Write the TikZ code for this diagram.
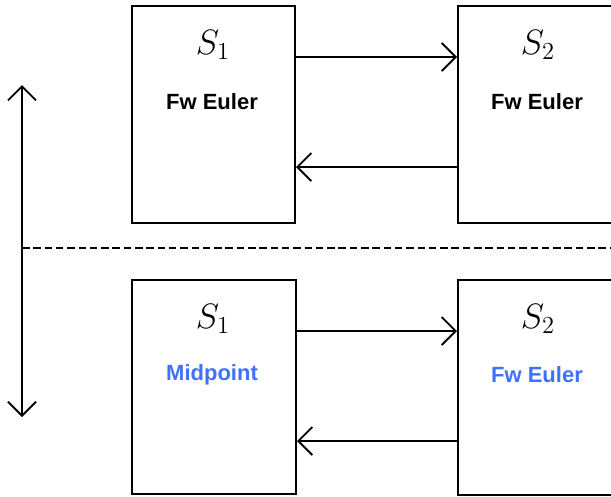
\documentclass[tikz,border=0pt]{standalone}
\usepackage{fontspec}
\setsansfont{Liberation Sans}
\usetikzlibrary{arrows.meta}
\definecolor{mblue}{RGB}{64,112,255}
\tikzset{
  blk/.style={draw=black, line width=2pt, inner sep=0pt, anchor=north west},
  conn/.style={line width=1.8pt, -{Straight Barb[length=14pt,width=28pt,line width=1.8pt]}},
  title/.style={font=\sffamily\bfseries\fontsize{22}{22}\selectfont, inner sep=0pt},
  slab/.style={font=\huge, inner sep=0pt, scale=1.7},
}
\begin{document}
\begin{tikzpicture}[x=1pt,y=-1pt]
\useasboundingbox (0,0) rectangle (611,496);
\clip (0,0) rectangle (611,496);
% boxes
\node[blk, minimum width=163pt, minimum height=217pt] (tl) at (131,5) {};
\node[blk, minimum width=180pt, minimum height=217pt] (tr) at (457,5) {};
\node[blk, minimum width=164pt, minimum height=214pt] (bl) at (131,279) {};
\node[blk, minimum width=180pt, minimum height=215pt] (br) at (457,279) {};
% labels
\node[slab] (s1a) at (213,45) {$S_{1}$};
\node[slab] (s2a) at (538,45) {$S_{2}$};
\node[title] (fa) at (212,102) {Fw Euler};
\node[title] (fb) at (537,102) {Fw Euler};
\node[slab] (s1b) at (213,319) {$S_{1}$};
\node[slab] (s2b) at (538,319) {$S_{2}$};
\node[title, text=mblue] (mp) at (212,375) {Midpoint};
\node[title, text=mblue] (fc) at (537,375) {Fw Euler};
% connectors
\draw[conn] (tl.east |- 0,57) -- (tr.west |- 0,57);
\draw[conn] (tr.west |- 0,167) -- (tl.east |- 0,167);
\draw[conn] (bl.east |- 0,331) -- (br.west |- 0,331);
\draw[conn] (br.west |- 0,441) -- (bl.east |- 0,441);
% vertical double arrow
\coordinate (vt) at (22,85);
\coordinate (vb) at (22,417);
\draw[line width=1.8pt, {Straight Barb[length=14pt,width=28pt,line width=1.8pt]}-{Straight Barb[length=14pt,width=28pt,line width=1.8pt]}] (vt) -- (vb);
% dashed separator
\coordinate (dl) at (22,248);
\coordinate (dr) at (611,248);
\draw[line width=1.8pt, dash pattern=on 7.5pt off 3.8pt] (dl) -- (dr);
\end{tikzpicture}
\end{document}
